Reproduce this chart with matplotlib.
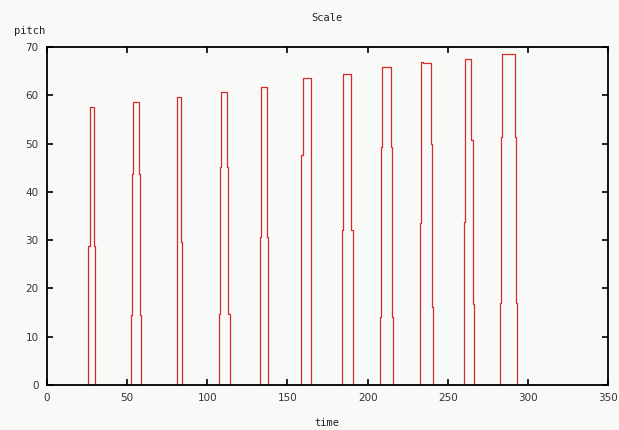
import matplotlib
matplotlib.use('Agg')
import matplotlib.pyplot as plt

# pitch track, as step breakpoints (time, new pitch)
time = [0,
        25.8, 26.7, 29.4, 30.2,
        52.1, 52.9, 53.6, 57.3, 57.9, 58.6,
        80.8, 81.4, 83.3, 84.2,
        107.3, 107.9, 108.75, 112.5, 113.1, 113.9,
        132.7, 133.6, 137.3, 138.1,
        158.3, 158.75, 159.6, 164.4, 165.0,
        183.75, 184.4, 189.8, 190.6,
        207.9, 208.6, 209.2, 214.4, 215.0, 215.8,
        232.5, 233.1, 234.4, 239.4, 240.0, 240.6,
        260.0, 260.6, 264.8, 265.6, 266.4,
        282.5, 283.3, 283.9, 291.9, 292.5, 293.1]
pitch = [0,
         28.7, 57.6, 28.7, 0,
         14.5, 43.8, 58.6, 43.8, 14.5, 0,
         29.7, 59.7, 29.7, 0,
         14.8, 45.2, 60.6, 45.2, 14.8, 0,
         30.7, 61.8, 30.7, 0,
         15.9, 47.6, 63.6, 31.7, 0,
         32.1, 64.5, 32.1, 0,
         14.1, 49.3, 65.8, 49.3, 14.1, 0,
         33.5, 66.9, 66.6, 50.0, 16.2, 0,
         33.8, 67.5, 50.7, 16.7, 0,
         16.9, 51.4, 68.5, 51.4, 16.9, 0]

xticks = [0, 50, 100, 150, 200, 250, 300, 350]
yticks = [0, 10, 20, 30, 40, 50, 60, 70]

bg = '#f8faf8'
fig = plt.figure(figsize=(6.19, 4.30), dpi=100, facecolor=bg)
ax = fig.add_axes([47 / 619, 45 / 430, 561 / 619, 338 / 430])
ax.set_facecolor(bg)

ax.plot(time, pitch, drawstyle='steps-post', color='#d42a2a', linewidth=0.9)

ax.set_xlim(0, 350)
ax.set_ylim(0, 70)
ax.set_xticks(xticks)
ax.set_yticks(yticks)
ax.tick_params(direction='in', length=4, width=1.2, top=True, right=True,
               labelsize=7.5, labelcolor='#333333', pad=6)
for s in ax.spines.values():
    s.set_linewidth(1.3)

fig.text(327 / 619, 1 - 18 / 430, 'Scale', ha='center', va='center',
         fontsize=7.5, family='DejaVu Sans Mono', color='#222222')
fig.text(14 / 619, 1 - 31 / 430, 'pitch', ha='left', va='center',
         fontsize=7.5, family='DejaVu Sans Mono', color='#222222')
# reference has this label clipped at the bottom edge; keep it just inside
fig.text(327 / 619, 1.5 / 430, 'time', ha='center', va='bottom',
         fontsize=7.5, family='DejaVu Sans Mono', color='#222222')

fig.savefig('out.png', dpi=100, facecolor=bg)
